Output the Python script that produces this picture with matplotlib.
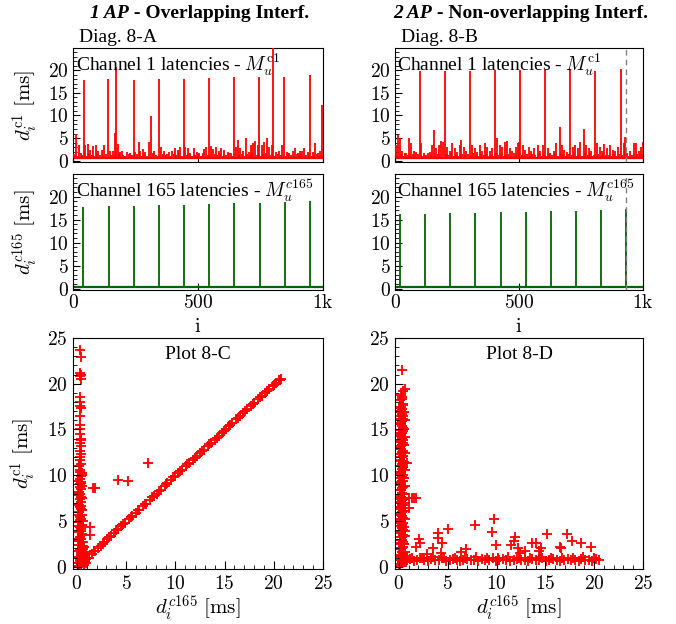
import numpy as np
import matplotlib
matplotlib.use("Agg")
import matplotlib.pyplot as plt
from matplotlib.ticker import FuncFormatter, MultipleLocator

plt.rcParams['mathtext.fontset'] = 'cm'
plt.rcParams['font.family'] = ['Liberation Serif', 'DejaVu Serif']

# ---- Diag. 8-A : channel 1 latency spikes (index, ms) ----
a_c1_idx = [12, 23, 43, 49, 60, 69, 79, 92, 100, 116, 125, 140, 149, 159, 167, 173, 180, 189, 196,
            216, 229, 243, 249, 263, 269, 279, 289, 305, 313, 323, 343, 353, 363, 376, 385, 396,
            407, 420, 429, 443, 449, 460, 469, 483, 496,
            505, 525, 532, 543, 552, 561, 572, 583, 592, 605, 619, 632, 645, 652, 659, 668, 679,
            692, 703, 712, 721, 729, 739, 745, 756, 765, 775, 783, 796, 801, 812, 825, 836, 845,
            855, 865, 879, 889, 899, 908, 916, 925, 939, 948, 959, 969, 979, 988, 996]
a_c1_val = [5.9, 3.5, 17.8, 3.5, 3.6, 2.4, 3.3, 3.5, 2.1, 2.4, 3.5, 18.1, 2.2, 2.2, 6.2, 20.8, 3.7, 1.9, 2.2,
            1.9, 1.7, 17.9, 1.9, 4.2, 2.2, 2.6, 1.9, 4.2, 9.9, 2.2, 18.0, 3.1, 2.2, 1.5, 1.9, 2.2,
            2.8, 2.4, 3.1, 18.1, 3.1, 2.8, 1.7, 2.8, 1.9,
            1.7, 2.6, 3.1, 18.3, 3.3, 2.6, 3.1, 2.2, 2.8, 2.4, 1.9, 1.7, 18.5, 3.1, 4.6, 2.8, 2.2,
            4.9, 1.9, 3.5, 3.8, 4.4, 3.5, 18.6, 3.4, 4.2, 4.9, 3.1, 3.5, 26.0, 1.9, 2.2, 3.5, 18.6,
            1.9, 1.7, 2.2, 2.8, 1.7, 2.2, 2.1, 2.8, 1.9, 18.9, 1.9, 4.0, 1.7, 2.1, 12.3]
# low-level jitter between the visible spikes
a_c1_small_idx = [5, 17, 30, 37, 54, 64, 74, 85, 97, 108, 120, 132, 153, 163, 185, 201, 208, 222,
                  235, 256, 274, 284, 296, 318, 330, 338, 358, 370, 391, 402, 413, 425, 436, 455,
                  465, 476, 489, 500, 512, 518, 538, 547, 566, 577, 588, 598, 611, 625, 638, 664,
                  674, 686, 697, 708, 717, 734, 750, 760, 770, 789, 806, 818, 830, 850, 860, 871,
                  884, 894, 904, 912, 920, 933, 944, 954, 964, 974, 984, 992]
a_c1_small_val = [1.4, 1.1, 1.6, 1.2, 1.0, 1.5, 1.3, 1.1, 1.7, 1.2, 1.0, 1.4, 1.3, 1.1, 1.6, 1.2,
                  1.0, 1.5, 1.2, 1.4, 1.1, 1.3, 1.0, 1.6, 1.2, 1.1, 1.5, 1.3, 1.0, 1.4, 1.2, 1.6,
                  1.1, 1.3, 1.5, 1.0, 1.2, 1.4, 1.1, 1.6, 1.3, 1.0, 1.5, 1.2, 1.4, 1.1, 1.3, 1.7,
                  1.0, 1.2, 1.5, 1.1, 1.4, 1.3, 1.6, 1.2, 1.0, 1.5, 1.7, 1.3, 1.1, 1.4, 1.2, 1.0,
                  1.6, 1.3, 1.1, 1.5, 1.2, 1.4, 1.0, 1.3, 1.6, 1.1, 1.2, 1.5, 1.0, 1.3]
a_c1_base = 0.6

# ---- Diag. 8-A : channel 165 ----
a_c165_idx = [41, 144, 243, 344, 444, 545, 645, 747, 848, 948]
a_c165_val = [17.8, 17.9, 18.0, 18.1, 18.2, 18.4, 18.5, 18.7, 18.8, 19.0]
a_c165_base = 0.35

# ---- Diag. 8-B : channel 1 ----
b_c1_idx = [5, 12, 22, 30, 39, 56, 66, 75, 86, 99, 106, 116, 126, 140, 150, 156, 167, 177, 187, 194,
            200, 210, 220, 231, 240, 250, 261, 267, 277, 288, 301, 312, 321, 331, 341, 352, 362,
            371, 382, 393, 402, 411, 422, 433, 443, 452, 462, 473, 487, 496,
            499, 505, 516, 526, 539, 548, 559, 575, 586, 597, 606, 616, 626, 640, 651, 664, 673,
            683, 694, 707, 718, 727, 737, 747, 761, 772, 781, 790, 808, 815, 825, 835, 844, 855,
            866, 879, 888, 898, 911, 922, 929, 949, 962, 970, 982, 992, 999]
b_c1_val = [3.5, 5.6, 4.9, 2.2, 1.7, 5.1, 3.8, 2.2, 1.9, 19.8, 3.8, 1.7, 1.3, 1.9, 3.5, 6.8, 2.8, 3.5, 4.4, 4.2,
            19.8, 3.1, 2.2, 3.8, 2.8, 1.9, 3.5, 4.6, 3.1, 2.2, 19.8, 3.5, 2.8, 1.9, 3.5, 2.2, 3.8,
            3.1, 2.1, 2.8, 20.0, 4.9, 3.5, 3.1, 4.2, 4.4, 2.8, 2.2, 3.1, 4.0,
            4.2, 20.0, 3.4, 2.4, 3.1, 2.2, 2.8, 3.4, 2.2, 3.5, 20.0, 2.8, 1.7, 2.2, 3.8, 7.4, 3.5,
            2.4, 1.9, 20.0, 3.1, 3.5, 2.8, 4.2, 7.0, 3.5, 2.8, 2.2, 19.8, 3.8, 3.1, 2.2, 3.6, 2.8,
            3.5, 2.4, 2.2, 3.1, 20.2, 3.8, 5.2, 2.1, 4.0, 3.8, 2.2, 3.1, 4.2]
b_c1_small_idx = [2, 9, 17, 26, 34, 45, 51, 61, 71, 81, 92, 111, 121, 132, 145, 161, 172, 182,
                  205, 215, 226, 236, 245, 256, 272, 283, 294, 306, 316, 326, 336, 347, 357, 366,
                  377, 388, 397, 407, 417, 428, 438, 448, 457, 468, 479, 491, 511, 521, 532, 544,
                  553, 565, 580, 591, 602, 611, 621, 632, 645, 657, 668, 678, 689, 700, 712, 722,
                  732, 742, 753, 766, 777, 786, 796, 802, 820, 830, 840, 850, 861, 872, 884, 893,
                  904, 916, 936, 943, 955, 966, 976, 987, 995]
b_c1_small_val = [1.5, 1.2, 1.0, 1.4, 1.1, 1.6, 1.3, 1.0, 1.5, 1.2, 1.4, 1.1, 1.0, 1.6, 1.3, 1.2,
                  1.5, 1.0, 1.4, 1.2, 1.6, 1.1, 1.3, 1.0, 1.5, 1.2, 1.4, 1.1, 1.6, 1.3, 1.0, 1.5,
                  1.2, 1.4, 1.1, 1.3, 1.0, 1.6, 1.2, 1.5, 1.1, 1.3, 1.4, 1.0, 1.6, 1.2, 1.3, 1.1,
                  1.5, 1.0, 1.4, 1.2, 1.6, 1.1, 1.3, 1.0, 1.5, 1.2, 1.4, 1.1, 1.6, 1.3, 1.0, 1.5,
                  1.2, 1.4, 1.1, 1.3, 1.0, 1.6, 1.2, 1.5, 1.1, 1.3, 1.4, 1.0, 1.6, 1.2, 1.3, 1.1,
                  1.5, 1.0, 1.4, 1.2, 1.6, 1.1, 1.3, 1.0, 1.5, 1.2, 1.4]
b_c1_base = 0.6

# ---- Diag. 8-B : channel 165 ----
b_c165_idx = [20, 121, 222, 324, 426, 527, 629, 730, 832, 931]
b_c165_val = [16.2, 16.3, 16.4, 16.5, 16.6, 16.7, 16.8, 16.9, 17.0, 17.2]
b_c165_base = 0.35
b_marker_i = 933

# ---- Plot 8-C : scatter (d165, d1) ----
c_col_x = [0.25, 0.45, 0.30, 0.55, 0.20, 0.40, 0.65, 0.35, 0.50, 0.25, 0.60, 0.40, 0.30, 0.50, 0.20,
           0.45, 0.35, 0.55, 0.25, 0.40, 0.30, 0.50, 0.20, 0.45, 0.35, 0.25, 0.40, 0.30, 0.45, 0.35,
           0.25, 0.40, 0.30, 0.35, 0.45, 0.30, 0.40, 0.75, 0.85, 0.70, 0.15, 0.55,
           0.35, 0.40, 0.30, 0.40, 0.35, 0.30, 0.40, 0.35, 0.30, 0.35, 0.40, 0.30, 0.35, 0.40, 0.30,
           0.35, 0.40, 0.30,
           0.10, 0.55, 0.15, 0.60, 0.10, 0.55, 0.15, 0.60, 0.10, 0.55, 0.15, 0.50, 0.10, 0.55,
           0.15, 0.50, 0.20, 0.45, 0.95, 0.80, 1.00, 0.60, 0.75, 0.90,
           0.30, 0.45, 0.25, 0.40, 0.30, 0.45, 0.25, 0.40, 0.35, 0.30, 0.40, 0.35, 0.30, 0.40]
c_col_y = [0.1, 0.3, 0.6, 0.8, 1.1, 1.3, 1.6, 1.9, 2.1, 2.4, 2.7, 3.0, 3.2, 3.5, 3.8,
           4.1, 4.3, 4.6, 4.9, 5.2, 5.4, 5.7, 6.0, 6.3, 6.5, 6.8, 7.1, 7.4, 7.6, 7.9,
           8.2, 8.5, 8.7, 9.0, 9.3, 9.6, 9.9, 0.2, 0.5, 1.0, 0.0, 10.2,
           10.6, 11.2, 11.7, 12.3, 12.7, 13.5, 13.9, 14.5, 15.0, 16.5, 17.3, 17.6, 18.5, 20.5, 20.9,
           21.2, 22.9, 23.7,
           0.4, 1.0, 1.7, 2.3, 3.0, 3.6, 4.4, 5.0, 5.6, 6.2, 6.9, 7.5, 8.1, 8.8,
           9.4, 10.0, 11.0, 14.0, 0.4, 1.3, 0.9, 1.9, 2.2, 1.6,
           0.8, 1.5, 2.8, 3.9, 5.1, 6.6, 7.8, 9.1, 10.4, 12.0, 13.2, 15.5, 18.0, 21.0]
c_diag_x = [0.7, 0.9, 1.2, 1.5, 1.8, 2.1, 2.4, 2.8, 3.1, 3.5, 3.8, 4.2, 4.5, 4.9, 5.3, 5.6, 6.0,
            6.3, 6.7, 7.0, 7.4, 7.8, 8.1, 8.5, 8.9, 9.2, 9.6, 10.0, 10.3, 10.7, 11.1, 11.4, 11.8,
            12.2, 12.5, 12.9, 13.3, 13.6, 14.0, 14.4, 14.7, 15.1, 15.5, 15.8, 16.2, 16.6, 16.9,
            17.3, 17.7, 18.0, 18.4, 18.8, 19.1, 19.5, 19.9, 20.2, 20.5, 20.7,
            1.0, 1.7, 2.6, 3.3, 4.0, 4.7, 5.5, 6.2, 6.9, 7.6, 8.3, 9.0, 9.8, 10.5, 11.2, 12.0,
            12.7, 13.4, 14.2, 14.9, 15.6, 16.4, 17.1, 17.9, 18.6, 19.3, 20.0, 20.6]
c_diag_y = [0.6, 0.8, 1.0, 1.4, 1.7, 2.0, 2.3, 2.7, 3.0, 3.4, 3.7, 4.1, 4.4, 4.8, 5.2, 5.5, 5.9,
            6.2, 6.6, 6.9, 7.3, 7.7, 8.0, 8.4, 8.8, 9.1, 9.5, 9.9, 10.2, 10.6, 11.0, 11.3, 11.7,
            12.1, 12.4, 12.8, 13.2, 13.5, 13.9, 14.3, 14.6, 15.0, 15.4, 15.7, 16.1, 16.5, 16.8,
            17.2, 17.6, 17.9, 18.3, 18.7, 19.0, 19.4, 19.8, 20.1, 20.4, 20.5,
            1.0, 1.7, 2.5, 3.3, 4.0, 4.7, 5.4, 6.2, 6.9, 7.6, 8.3, 9.0, 9.8, 10.5, 11.2, 11.9,
            12.6, 13.4, 14.1, 14.8, 15.5, 16.3, 17.0, 17.8, 18.5, 19.2, 19.9, 20.4]
c_out_x = [1.3, 1.3, 1.6, 1.8, 4.2, 5.2, 7.2]
c_out_y = [4.3, 3.5, 8.6, 8.6, 9.5, 9.4, 11.3]

# ---- Plot 8-D : scatter (d165, d1) ----
d_col_x = [0.15, 0.35, 0.25, 0.45, 0.15, 0.35, 0.25, 0.45, 0.15, 0.35, 0.25, 0.45, 0.15, 0.35,
           0.25, 0.45, 0.15, 0.35, 0.25, 0.45, 0.15, 0.35, 0.25, 0.45, 0.15, 0.35, 0.25, 0.45,
           0.15, 0.35, 0.25, 0.45, 0.15, 0.35, 0.25, 0.45, 0.15, 0.35, 0.25, 0.45, 0.15, 0.35,
           0.25, 0.45, 0.15, 0.35, 0.25, 0.45, 0.15, 0.35, 0.25, 0.45, 0.15, 0.35, 0.25, 0.45,
           0.15, 0.35, 0.25, 0.45, 0.35, 0.60, 0.75, 0.55]
d_col_y = [0.1, 0.4, 0.7, 1.0, 1.3, 1.6, 1.9, 2.2, 2.6, 2.9, 3.2, 3.5, 3.9, 4.2, 4.5, 4.8,
           5.2, 5.5, 5.8, 6.1, 6.5, 6.8, 7.1, 7.4, 7.8, 8.1, 8.4, 8.7, 9.1, 9.4, 9.7, 10.0,
           10.4, 10.7, 11.0, 11.3, 11.7, 12.0, 12.3, 12.6, 13.0, 13.3, 13.6, 13.9, 14.3, 14.6,
           14.9, 15.2, 15.6, 15.9, 16.2, 16.5, 16.9, 17.2, 17.5, 17.8, 18.2, 18.5, 18.8, 19.2,
           21.5, 1.2, 0.9, 2.5]
# second and third pass of the same column, offset sideways
d_col2_x = [0.05, 0.55, 0.10, 0.60, 0.05, 0.55, 0.10, 0.60, 0.05, 0.55, 0.10, 0.60, 0.05, 0.55,
            0.10, 0.60, 0.05, 0.55, 0.10, 0.60, 0.05, 0.55, 0.10, 0.60, 0.05, 0.55, 0.10, 0.60,
            0.05, 0.55, 0.10, 0.60, 0.05, 0.55, 0.10, 0.60, 0.05, 0.55, 0.10, 0.60, 0.70, 0.85,
            0.65, 0.80]
d_col2_y = [0.25, 0.7, 1.15, 1.6, 2.05, 2.5, 2.95, 3.4, 3.85, 4.3, 4.75, 5.2, 5.65, 6.1,
            6.55, 7.0, 7.45, 7.9, 8.35, 8.8, 9.25, 9.7, 10.15, 10.6, 11.05, 11.5, 11.95, 12.4,
            12.85, 13.3, 13.75, 14.2, 14.65, 15.1, 15.55, 16.0, 16.45, 16.9, 17.35, 19.4, 0.5,
            1.0, 3.9, 11.3]
d_col3_x = [0.30, 0.20, 0.40, 0.30, 0.20, 0.40, 0.30, 0.20, 0.40, 0.30, 0.20, 0.40, 0.30, 0.20,
            0.40, 0.30, 0.20, 0.40, 0.30, 0.20, 0.40, 0.30, 0.20, 0.40, 0.30, 0.20, 0.40, 0.30,
            0.20, 0.40, 0.30, 0.20, 0.40, 0.30, 0.20, 0.40, 0.30, 0.20, 0.40, 0.30]
d_col3_y = [0.55, 1.05, 1.5, 2.0, 2.45, 2.75, 3.3, 3.7, 4.05, 4.6, 5.0, 5.35, 5.95, 6.3, 6.7,
            7.25, 7.6, 8.0, 8.55, 8.95, 9.35, 9.85, 10.3, 10.85, 11.2, 11.6, 12.15, 12.5, 13.15,
            13.5, 14.05, 14.4, 14.8, 15.35, 15.75, 16.1, 16.65, 17.05, 17.65, 18.35]
d_band_x = [0.8, 1.1, 1.5, 1.9, 2.2, 2.6, 3.0, 3.3, 3.7, 4.1, 4.4, 4.8, 5.2, 5.5, 5.9, 6.3,
            6.6, 7.0, 7.4, 7.7, 8.1, 8.5, 8.8, 9.2, 9.6, 9.9, 10.3, 10.7, 11.0, 11.4, 11.8,
            12.1, 12.5, 12.9, 13.2, 13.6, 14.0, 14.3, 14.7, 15.1, 15.4, 15.8, 16.2, 16.5,
            16.9, 17.3, 17.6, 18.0, 18.4, 18.7, 19.1, 19.5, 19.8, 20.2, 20.5,
            1.3, 2.4, 3.5, 4.6, 5.7, 6.8, 7.9, 9.0, 10.1, 11.2, 12.3, 13.4, 14.5, 15.6,
            16.7, 17.8, 18.9, 20.0]
d_band_y = [0.7, 0.8, 0.6, 0.7, 0.9, 0.7, 0.6, 0.8, 0.7, 0.7, 0.9, 0.6, 0.7, 0.8, 0.7, 0.6,
            0.7, 0.8, 0.7, 0.7, 0.6, 0.8, 0.7, 0.7, 0.9, 0.6, 0.7, 0.8, 0.7, 0.6, 0.7,
            0.8, 0.7, 0.7, 0.6, 0.8, 0.7, 0.7, 0.9, 0.6, 0.7, 0.8, 0.7, 0.6, 0.7,
            0.8, 0.7, 0.7, 0.6, 0.8, 0.7, 0.7, 0.6, 0.8, 0.7,
            1.0, 0.9, 1.1, 1.0, 0.9, 1.0, 1.1, 0.9, 1.0, 1.1, 0.9, 1.0, 1.1, 0.9,
            1.0, 0.9, 1.1, 1.0]
d_out_x = [1.0, 1.3, 1.55, 1.8, 1.0, 2.05, 2.15, 1.8, 2.9, 3.5, 4.0, 4.0, 4.4, 4.3, 5.0, 6.4,
           6.9, 7.8, 9.7, 9.5, 9.9, 11.5, 11.9, 11.8, 12.2, 12.4, 12.9, 13.6, 14.0, 14.3,
           14.6, 15.2, 16.5, 16.6, 17.2, 17.7, 18.7, 19.7]
d_out_y = [7.5, 7.5, 7.5, 7.5, 6.4, 3.0, 2.6, 2.2, 1.4, 2.0, 3.7, 3.1, 2.6, 1.5, 4.1, 1.6,
           1.9, 4.6, 5.2, 3.8, 2.4, 2.4, 3.2, 2.8, 2.0, 1.5, 1.75, 2.6, 2.6, 1.7,
           2.0, 3.6, 2.2, 2.0, 3.6, 2.85, 2.6, 2.2]

RED = '#ff0000'
GREEN = '#006400'

fig = plt.figure(figsize=(6.76, 6.24), dpi=100)
W, H = 676, 624


def px_axes(left, top, right, bottom):
    return fig.add_axes([left / W, 1 - bottom / H, (right - left) / W, (bottom - top) / H])


def math_fmt(v, pos):
    if v == 1000:
        return r'$1\mathrm{k}$'
    return r'$%g$' % v


def style_series_ax(ax, show_x):
    ax.set_xlim(0, 1000)
    ax.set_ylim(-0.3, 24.9)
    ax.yaxis.set_major_locator(MultipleLocator(5))
    ax.yaxis.set_minor_locator(MultipleLocator(1))
    ax.xaxis.set_major_locator(MultipleLocator(500))
    ax.xaxis.set_major_formatter(FuncFormatter(math_fmt))
    ax.yaxis.set_major_formatter(FuncFormatter(math_fmt))
    ax.tick_params(which='both', direction='in', top=False, right=False, labelsize=14, pad=3)
    ax.tick_params(which='major', length=5, width=0.8)
    ax.tick_params(which='minor', length=3, width=0.6)
    if not show_x:
        ax.tick_params(axis='x', labelbottom=False)


def style_scatter_ax(ax):
    ax.set_xlim(-0.4, 25)
    ax.set_ylim(-0.25, 25)
    for axis in (ax.xaxis, ax.yaxis):
        axis.set_major_locator(MultipleLocator(5))
        axis.set_minor_locator(MultipleLocator(1))
        axis.set_major_formatter(FuncFormatter(math_fmt))
    ax.tick_params(which='both', direction='in', top=False, right=False, labelsize=14, pad=4)
    ax.tick_params(which='major', length=6, width=0.8)
    ax.tick_params(which='minor', length=3, width=0.6)


def draw_series(ax, idx, val, base, color, small_idx=None, small_val=None):
    ax.plot([0, 1000], [base, base], color=color, lw=1.6, zorder=2)
    if small_idx is not None:
        ax.vlines(small_idx, base, small_val, color=color, lw=1.3, zorder=3)
    ax.vlines(idx, base, val, color=color, lw=1.3, zorder=3)


# row 1 : channel 1
ax1 = px_axes(73, 48, 323, 162)
draw_series(ax1, a_c1_idx, a_c1_val, a_c1_base, RED, a_c1_small_idx, a_c1_small_val)
style_series_ax(ax1, False)
ax1.set_ylabel(r'$d_i^{\mathrm{c}1}\ [\mathrm{ms}]$', fontsize=15, labelpad=6)
ax1.text(0.01, 0.97, r'Channel 1 latencies - $M_u^{\mathrm{c}1}$', transform=ax1.transAxes,
         ha='left', va='top', fontsize=14)

ax2 = px_axes(395, 48, 643, 162)
draw_series(ax2, b_c1_idx, b_c1_val, b_c1_base, RED, b_c1_small_idx, b_c1_small_val)
ax2.axvline(b_marker_i, color='grey', ls=(0, (4, 3)), lw=1.0, zorder=4)
style_series_ax(ax2, False)
ax2.text(0.01, 0.97, r'Channel 1 latencies - $M_u^{\mathrm{c}1}$', transform=ax2.transAxes,
         ha='left', va='top', fontsize=14)

# row 2 : channel 165
ax3 = px_axes(73, 174, 323, 290)
draw_series(ax3, a_c165_idx, a_c165_val, a_c165_base, GREEN)
style_series_ax(ax3, True)
ax3.set_ylabel(r'$d_i^{c165}\ [\mathrm{ms}]$', fontsize=15, labelpad=6)
ax3.set_xlabel(r'$\mathrm{i}$', fontsize=15, labelpad=4)
ax3.text(0.01, 0.97, r'Channel 165 latencies - $M_u^{c165}$', transform=ax3.transAxes,
         ha='left', va='top', fontsize=14)

ax4 = px_axes(395, 174, 643, 290)
draw_series(ax4, b_c165_idx, b_c165_val, b_c165_base, GREEN)
ax4.axvline(b_marker_i, color='grey', ls=(0, (4, 3)), lw=1.0, zorder=4)
style_series_ax(ax4, True)
ax4.set_xlabel(r'$\mathrm{i}$', fontsize=15, labelpad=4)
ax4.text(0.01, 0.97, r'Channel 165 latencies - $M_u^{c165}$', transform=ax4.transAxes,
         ha='left', va='top', fontsize=14)

# row 3 : scatter plots
mk = dict(marker='+', s=55, color=RED, linewidths=1.4, alpha=0.95)
ax5 = px_axes(73, 338, 323, 569)
ax5.scatter(c_col_x, c_col_y, **mk)
ax5.scatter(c_diag_x, c_diag_y, **mk)
ax5.scatter(c_out_x, c_out_y, **mk)
style_scatter_ax(ax5)
ax5.set_ylabel(r'$d_i^{\mathrm{c}1}\ [\mathrm{ms}]$', fontsize=15, labelpad=6)
ax5.set_xlabel(r'$d_i^{c165}\ [\mathrm{ms}]$', fontsize=15, labelpad=1)
ax5.text(0.5, 0.965, 'Plot 8-C', transform=ax5.transAxes, ha='center', va='top', fontsize=14)

ax6 = px_axes(395, 338, 643, 569)
ax6.scatter(d_col_x, d_col_y, **mk)
ax6.scatter(d_col2_x, d_col2_y, **mk)
ax6.scatter(d_col3_x, d_col3_y, **mk)
ax6.scatter(d_band_x, d_band_y, **mk)
ax6.scatter(d_out_x, d_out_y, **mk)
style_scatter_ax(ax6)
ax6.set_xlabel(r'$d_i^{c165}\ [\mathrm{ms}]$', fontsize=15, labelpad=1)
ax6.text(0.5, 0.965, 'Plot 8-D', transform=ax6.transAxes, ha='center', va='top', fontsize=14)

# column titles (italic bold prefix, bold rest)
t1 = fig.text(90 / W, 1 - 14 / H, '1 AP', fontsize=14, fontweight='bold', fontstyle='italic',
              ha='left', va='center')
plt.annotate(' - Overlapping Interf.', xy=(1, 0.5), xycoords=t1, va='center', ha='left',
             fontsize=14, fontweight='bold', annotation_clip=False)
t2 = fig.text(393 / W, 1 - 14 / H, '2 AP', fontsize=14, fontweight='bold', fontstyle='italic',
              ha='left', va='center')
plt.annotate(' - Non-overlapping Interf.', xy=(1, 0.5), xycoords=t2, va='center', ha='left',
             fontsize=14, fontweight='bold', annotation_clip=False)

fig.text(79 / W, 1 - 37 / H, 'Diag. 8-A', fontsize=14, ha='left', va='center')
fig.text(401 / W, 1 - 37 / H, 'Diag. 8-B', fontsize=14, ha='left', va='center')

fig.savefig('out.png', dpi=100)
